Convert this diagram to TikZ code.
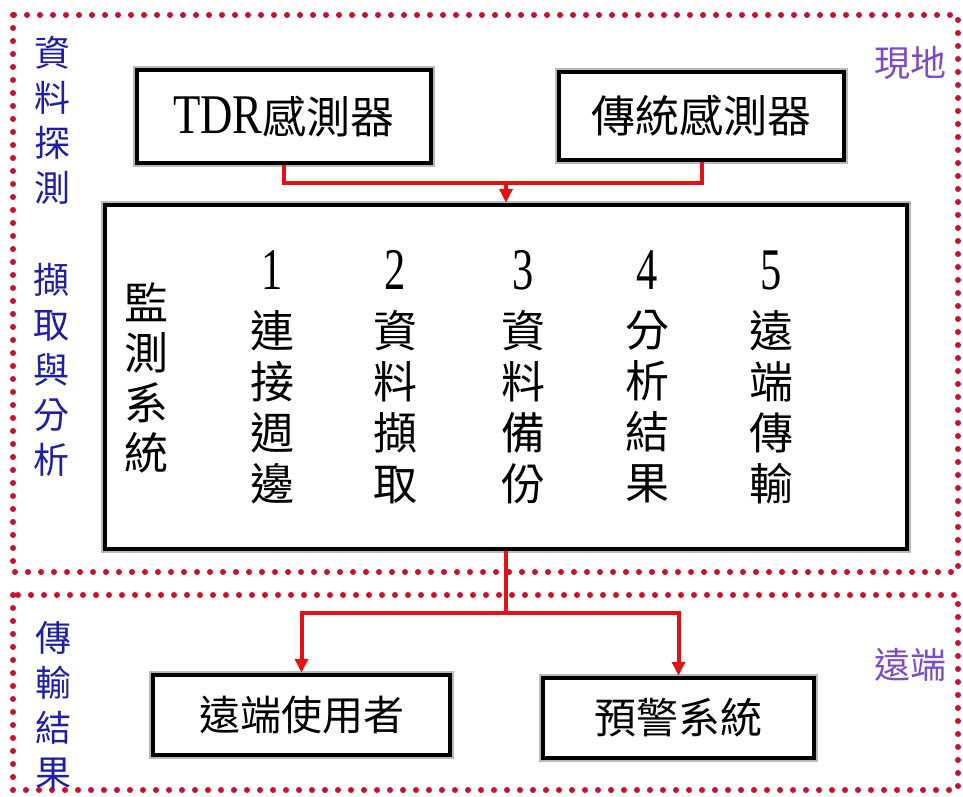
\documentclass[tikz,border=0pt]{standalone}
\usepackage{fontspec}
\usepackage{graphicx}
\setmainfont{Liberation Serif}
\newfontfamily\cjk{Noto Sans CJK TC}
\usetikzlibrary{arrows.meta}
\definecolor{dotred}{RGB}{205,15,45}
\definecolor{linered}{RGB}{228,18,18}
\definecolor{lblue}{RGB}{30,30,170}
\definecolor{lpurple}{RGB}{125,75,200}
\tikzset{
 region/.style={draw=dotred, line width=6pt, line cap=round, dash pattern=on 0pt off 13pt},
 box/.style={draw=black, line width=4.5pt, preaction={draw=gray!55, line width=8pt}, fill=white, inner sep=0pt, font=\cjk\fontsize{44}{44}\selectfont},
 link/.style={draw=linered, line width=4pt},
 arr/.style={link, -{Triangle[width=13pt,length=14pt]}},
 sidelabel/.style={font=\cjk\fontsize{36}{45}\selectfont, align=center, inner sep=0pt, text=lblue},
 sitelabel/.style={font=\cjk\fontsize{36}{36}\selectfont, inner sep=0pt, text=lpurple},
 colstack/.style={font=\cjk\fontsize{44}{51}\selectfont, align=center, inner sep=0pt},
 digit/.style={inner sep=0pt, font=\fontsize{59}{59}\selectfont},
}
\newcommand{\narrow}[1]{\scalebox{0.72}[1]{#1}}
\begin{document}
\begin{tikzpicture}[x=1pt,y=-1pt]
\useasboundingbox (0,0) rectangle (963,796);
% regions
\draw[region] (13,15) rectangle (958,572);
\draw[region] (13,595) rectangle (958,790);
% side labels
\node[sidelabel] (l1) at (52,120) {資\\料\\探\\測};
\node[sidelabel] (l2) at (51,370) {擷\\取\\與\\分\\析};
\node[sidelabel] (l3) at (53,705) {傳\\輸\\結\\果};
\node[sitelabel] (s1) at (910,63) {現地};
\node[sitelabel] (s2) at (910,665) {遠端};
% boxes
\node[box, minimum width=294pt, minimum height=93pt] (tdr) at (284,116.5) {\scalebox{0.8}[1]{\fontspec{Liberation Serif}\fontsize{56}{56}\selectfont TDR}感測器};
\node[box, minimum width=285pt, minimum height=88pt] (trad) at (701.5,116) {傳統感測器};
\node[box, minimum width=802pt, minimum height=344pt] (main) at (506,377) {};
\node[box, minimum width=297pt, minimum height=80pt, font=\cjk\fontsize{41}{41}\selectfont] (user) at (301.5,715) {遠端使用者};
\node[box, minimum width=271pt, minimum height=80pt, font=\cjk\fontsize{42}{42}\selectfont] (warn) at (678.5,718) {預警系統};
% main box contents
\node[colstack, font=\cjk\fontsize{44}{50}\selectfont] (m0) at (146,378) {監\\測\\系\\統};
\node[digit] (d1) at (272,270) {\narrow{1}};
\node[digit] (d2) at (395,270) {\narrow{2}};
\node[digit] (d3) at (523,270) {\narrow{3}};
\node[digit] (d4) at (647,270) {\narrow{4}};
\node[digit] (d5) at (771,270) {\narrow{5}};
\node[colstack] (c1) at (272,407) {連\\接\\週\\邊};
\node[colstack] (c2) at (395,407) {資\\料\\擷\\取};
\node[colstack] (c3) at (523,407) {資\\料\\備\\份};
\node[colstack] (c4) at (647,407) {分\\析\\結\\果};
\node[colstack] (c5) at (771,407) {遠\\端\\傳\\輸};
% connectors
\coordinate (j1) at (506,183);
\coordinate (j2) at (506,613);
\draw[link] (tdr.south) |- (j1);
\draw[link] (trad.south) |- (j1);
\draw[arr] (j1) -- (main.north);
\draw[link] (main.south) -- (j2);
\draw[arr] (j2) -| (user.north);
\draw[arr] (j2) -| (warn.north);
\end{tikzpicture}
\end{document}
